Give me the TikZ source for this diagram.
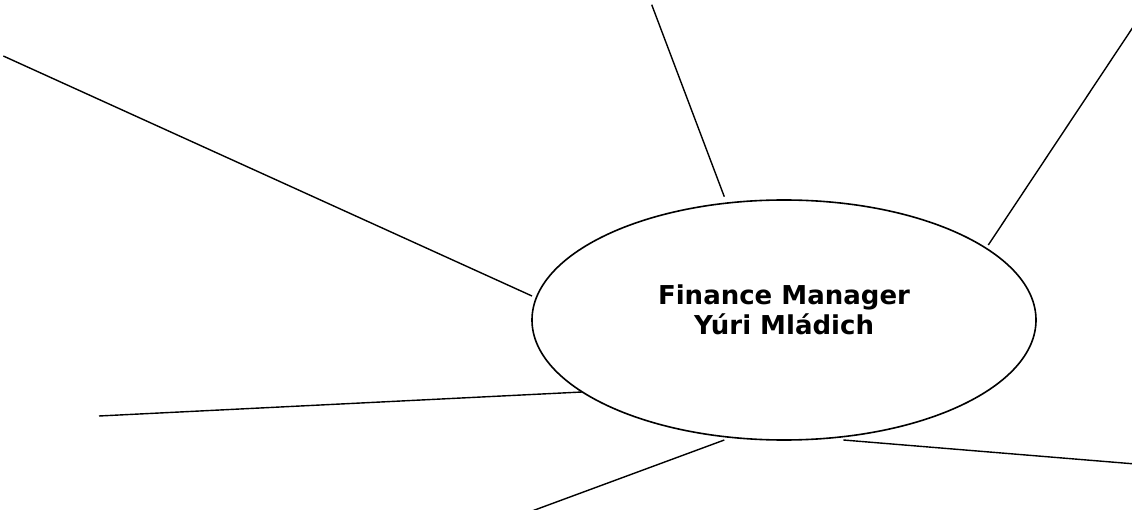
\documentclass[tikz,border=0pt]{standalone}
\usepackage{fontspec}
\setmainfont{DejaVu Sans}
\usetikzlibrary{shapes.geometric}

\tikzset{
  spoke/.style={draw=black, line width=1.4bp, line cap=butt},
  hub/.style={ellipse, draw=black, line width=1.6bp, fill=white,
    minimum width=504bp, minimum height=240bp, inner sep=0pt},
  hubtext/.style={font=\fontsize{26bp}{30bp}\selectfont\bfseries,
    anchor=base, inner sep=0pt}
}

\begin{document}
\begin{tikzpicture}[x=1bp, y=-1bp]
  % page frame
  \fill[white] (0,0) rectangle (1132,510);
  \useasboundingbox (0,0) rectangle (1132,510);

  % central ellipse
  \node[hub] (hub) at (784,320) {};
  \node[hubtext] (role) at (784,305) {Finance Manager};
  \node[hubtext] (person) at (784,335) {Yúri Mládich};

  % spoke ends: outer (free) and inner (next to the ellipse)
  \coordinate (o1) at (3.3,56);     \coordinate (i1) at (532,296);
  \coordinate (o2) at (651.7,4.7);  \coordinate (i2) at (724.3,196.7);
  \coordinate (o3) at (1133,27.1);  \coordinate (i3) at (988.3,245);
  \coordinate (o4) at (99,416);     \coordinate (i4) at (582,392);
  \coordinate (o5) at (532,511);    \coordinate (i5) at (724.3,440);
  \coordinate (o6) at (1133,463.8); \coordinate (i6) at (843.3,440);

  % spokes
  \foreach \k in {1,...,6} {
    \draw[spoke] (o\k) -- (i\k);
  }
\end{tikzpicture}
\end{document}
